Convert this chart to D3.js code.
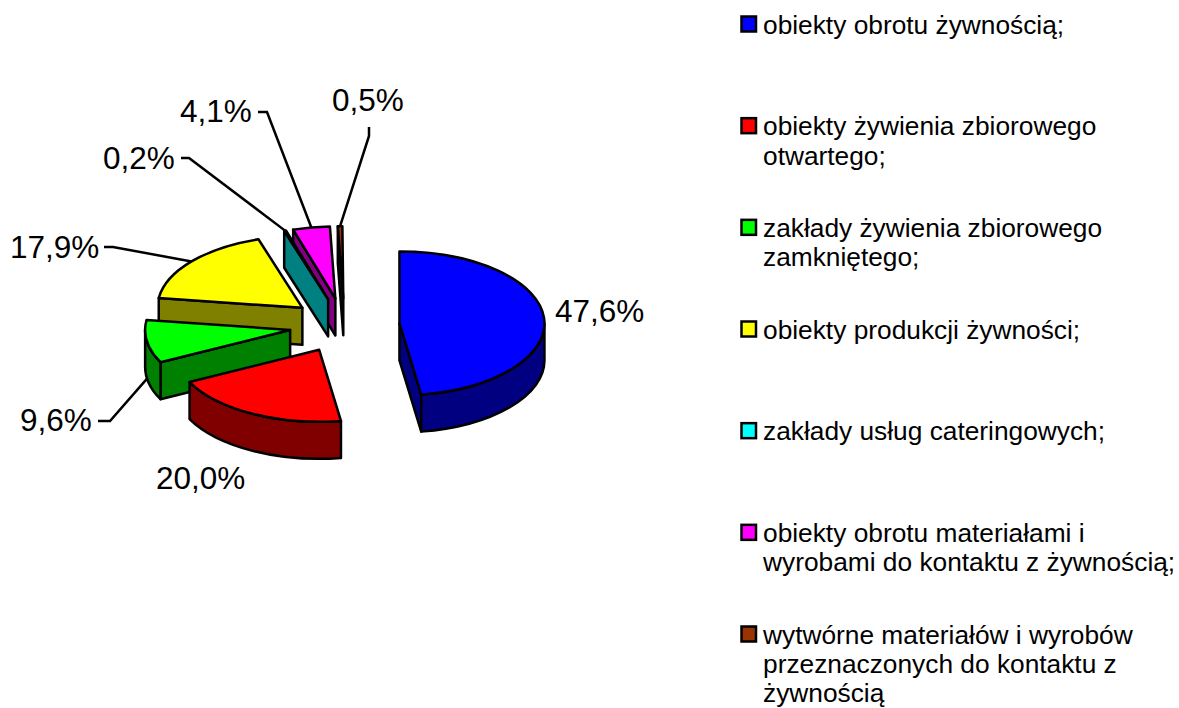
<!DOCTYPE html>
<html>
<head>
<meta charset="utf-8">
<script src="https://cdn.jsdelivr.net/npm/d3@7"></script>
<style>
  html, body { margin: 0; padding: 0; background: #fff; }
  text { font-family: "Liberation Sans", Arial, sans-serif; fill: #000; }
</style>
</head>
<body>
<svg id="chart" width="1179" height="708"></svg>
<script>
// data
const categories = [
  ['obiekty obrotu żywnością;'],
  ['obiekty żywienia zbiorowego', 'otwartego;'],
  ['zakłady żywienia zbiorowego', 'zamkniętego;'],
  ['obiekty produkcji żywności;'],
  ['zakłady usług cateringowych;'],
  ['obiekty obrotu materiałami i', 'wyrobami do kontaktu z żywnością;'],
  ['wytwórne materiałów i wyrobów', 'przeznaczonych do kontaktu z', 'żywnością']
]
const values = [47.6, 20.0, 9.6, 17.9, 0.2, 4.1, 0.5]
const topColors = ['#0000ff', '#ff0000', '#00ff00', '#ffff00', '#00ffff', '#ff00ff', '#993300']
const sideColors = ['#000080', '#800000', '#008000', '#808000', '#008080', '#800080', '#4d1a00']

// where the value labels sit, and the elbow of the leader line (none = no leader)
const labelSpots = [
  { x: 555, y: 322 },
  { x: 156, y: 489 },
  { x: 20, y: 431, elbow: [[98, 421], [110, 421]] },
  { x: 10, y: 258, elbow: [[104, 247], [113, 247]] },
  { x: 103, y: 169, elbow: [[181, 158], [189, 158]] },
  { x: 180, y: 122, elbow: [[258, 112], [267, 112]] },
  { x: 332, y: 111, elbow: [[369, 127], [369, 136]] }
]

const svg = d3.select('#chart')

const cx = 344.5
const cy = 325.5
const rx = 145
const ry = 72
const depth = 37
const explode = 0.38
const lineW = 2.5

// the percentages add up to 99.9, so the circle is not quite closed
const pie = d3.pie().sort(null).endAngle(2 * Math.PI * d3.sum(values) / 100)
const slices = pie(values).map((d, i) => {
  const mid = (d.startAngle + d.endAngle) / 2
  return {
    i: i,
    a0: d.startAngle,
    a1: d.endAngle,
    mid: mid,
    tx: cx + explode * rx * Math.sin(mid),
    ty: cy - explode * ry * Math.cos(mid)
  }
})

function pt(s, a, dy) {
  return [s.tx + rx * Math.sin(a), s.ty - ry * Math.cos(a) + (dy || 0)]
}

function arcTo(p, sweep, large) {
  return 'A' + rx + ',' + ry + ' 0 ' + (large ? 1 : 0) + ' ' + sweep + ' ' + p[0] + ',' + p[1]
}

function topPath(s) {
  const p0 = pt(s, s.a0)
  const p1 = pt(s, s.a1)
  return 'M' + s.tx + ',' + s.ty + 'L' + p0[0] + ',' + p0[1] +
    arcTo(p1, 1, s.a1 - s.a0 > Math.PI) + 'Z'
}

// flat cut face from the tip out to the rim at angle a
function facePath(s, a) {
  const p = pt(s, a)
  const q = pt(s, a, depth)
  return 'M' + s.tx + ',' + s.ty + 'L' + p[0] + ',' + p[1] + 'L' + q[0] + ',' + q[1] +
    'L' + s.tx + ',' + (s.ty + depth) + 'Z'
}

// rim wall, only the part that faces the viewer
function wallPath(s) {
  const a = Math.max(s.a0, Math.PI / 2)
  const b = Math.min(s.a1, Math.PI * 1.5)
  if (b <= a) return null
  const p0 = pt(s, a)
  const p1 = pt(s, b)
  const q1 = pt(s, b, depth)
  const q0 = pt(s, a, depth)
  return 'M' + p0[0] + ',' + p0[1] + arcTo(p1, 1, false) +
    'L' + q1[0] + ',' + q1[1] + arcTo(q0, 0, false) + 'Z'
}

// back slices first
const drawOrder = slices.slice().sort((a, b) => a.ty - b.ty)

drawOrder.forEach((s) => {
  const g = svg.append('g')
    .attr('stroke', '#000')
    .attr('stroke-width', lineW)
    .attr('stroke-linejoin', 'round')
  const sideFill = sideColors[s.i]
  if (s.a0 > Math.PI) {
    g.append('path').attr('d', facePath(s, s.a0)).attr('fill', sideFill)
  }
  if (s.a1 < Math.PI) {
    g.append('path').attr('d', facePath(s, s.a1)).attr('fill', sideFill)
  }
  const wall = wallPath(s)
  if (wall) {
    g.append('path').attr('d', wall).attr('fill', sideFill)
  }
  g.append('path').attr('d', topPath(s)).attr('fill', topColors[s.i])
})

// leaders
const leader = d3.line()
slices.forEach((s) => {
  const spot = labelSpots[s.i]
  if (!spot.elbow) return
  const end = pt(s, s.mid, Math.cos(s.mid) < 0 ? depth : 0)
  svg.append('path')
    .attr('d', leader(spot.elbow.concat([end])))
    .attr('fill', 'none')
    .attr('stroke', '#000')
    .attr('stroke-width', lineW)
})

// value labels
const fmt = (v) => v.toFixed(1).replace('.', ',') + '%'
svg.selectAll('.val')
  .data(values)
  .enter()
  .append('text')
  .attr('class', 'val')
  .attr('x', (d, i) => labelSpots[i].x)
  .attr('y', (d, i) => labelSpots[i].y)
  .style('font-size', '31.5px')
  .text(fmt)

// legend
const legendY = d3.scalePoint()
  .domain(d3.range(categories.length))
  .range([24, 634])

const legend = svg.selectAll('.legend')
  .data(categories)
  .enter()
  .append('g')
  .attr('class', 'legend')
  .attr('transform', (d, i) => 'translate(0,' + legendY(i) + ')')

legend.append('rect')
  .attr('x', 741.5)
  .attr('y', -7.5)
  .attr('width', 14.5)
  .attr('height', 15)
  .attr('fill', (d, i) => topColors[i])
  .attr('stroke', '#000')
  .attr('stroke-width', lineW)

legend.each(function (lines) {
  d3.select(this).selectAll('text')
    .data(lines)
    .enter()
    .append('text')
    .attr('x', 763)
    .attr('y', (d, j) => 9.5 + j * 29.4)
    .style('font-size', '26.3px')
    .text((d) => d)
})
</script>
</body>
</html>
